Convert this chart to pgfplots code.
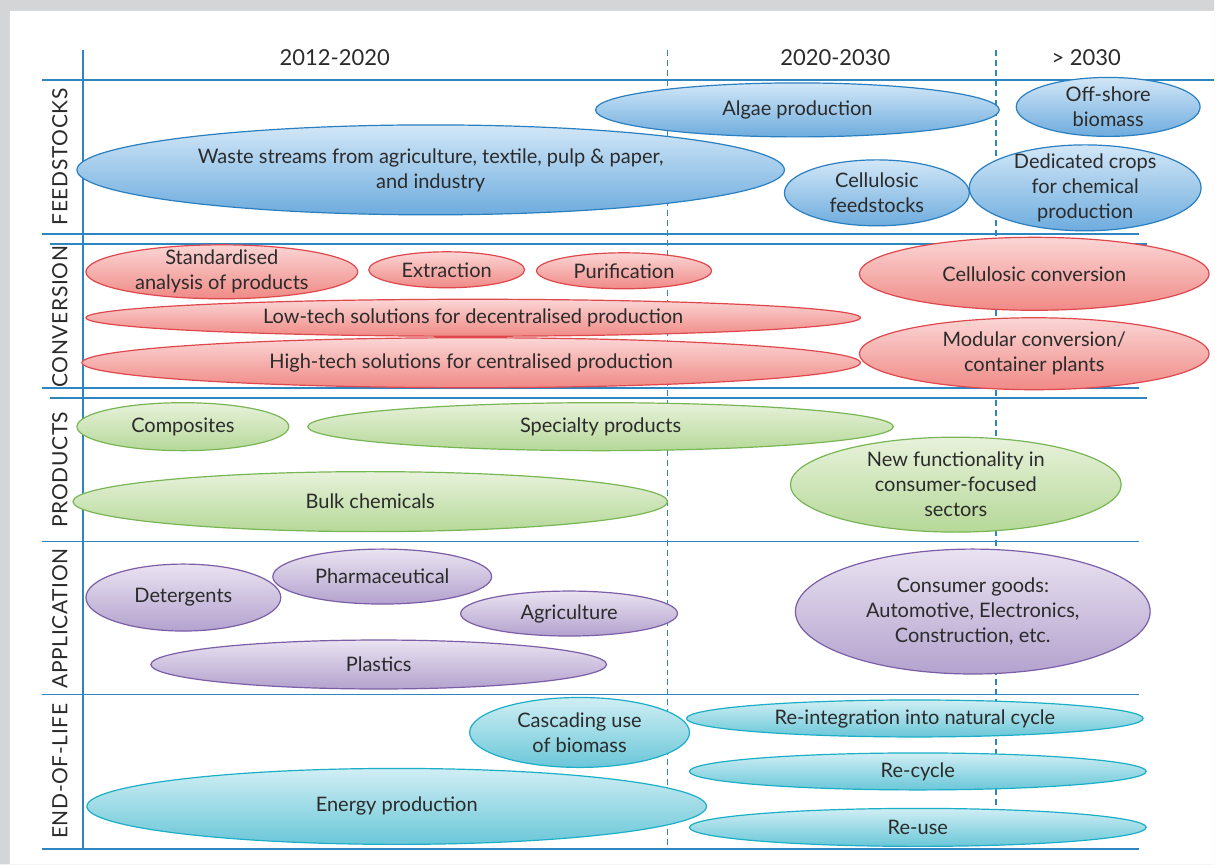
\documentclass[border=0pt]{standalone}
\usepackage{fontspec}
\setmainfont{Lato}
\newfontfamily\catfont[LetterSpace=3]{Lato}
\usepackage{pgfplots}
\pgfplotsset{compat=1.18}

\definecolor{graybg}{HTML}{D4D5D7}
\definecolor{linecol}{HTML}{2E86C1}
\definecolor{txt}{HTML}{2B2B2B}
\definecolor{bedge}{HTML}{2A7FC0}\definecolor{btop}{HTML}{D2E7F7}\definecolor{bbot}{HTML}{6EACDE}
\definecolor{redge}{HTML}{E0474C}\definecolor{rtop}{HTML}{FAD6D5}\definecolor{rbot}{HTML}{F08A86}
\definecolor{gedge}{HTML}{78B655}\definecolor{gtop}{HTML}{E8F2DB}\definecolor{gbot}{HTML}{B5D898}
\definecolor{pedge}{HTML}{7B5EA7}\definecolor{ptop}{HTML}{EAE3F1}\definecolor{pbot}{HTML}{B3A2CE}
\definecolor{tedge}{HTML}{1AAFC7}\definecolor{ttop}{HTML}{D0EEF4}\definecolor{tbot}{HTML}{6AC7D8}

\pgfdeclareverticalshading{shb}{100bp}{color(0bp)=(bbot); color(25bp)=(bbot); color(75bp)=(btop); color(100bp)=(btop)}
\pgfdeclareverticalshading{shr}{100bp}{color(0bp)=(rbot); color(25bp)=(rbot); color(75bp)=(rtop); color(100bp)=(rtop)}
\pgfdeclareverticalshading{shg}{100bp}{color(0bp)=(gbot); color(25bp)=(gbot); color(75bp)=(gtop); color(100bp)=(gtop)}
\pgfdeclareverticalshading{shp}{100bp}{color(0bp)=(pbot); color(25bp)=(pbot); color(75bp)=(ptop); color(100bp)=(ptop)}
\pgfdeclareverticalshading{sht}{100bp}{color(0bp)=(tbot); color(25bp)=(tbot); color(75bp)=(ttop); color(100bp)=(ttop)}

\newcommand\declell[3]{%
  \pgfdeclareplotmark{#1}{%
    \pgfpathellipse{\pgfpointorigin}{\pgfpoint{0.5pt*\rx}{0pt}}{\pgfpoint{0pt}{0.5pt*\ry}}%
    \pgfshadepath{#2}{0}%
    \pgfpathellipse{\pgfpointorigin}{\pgfpoint{0.5pt*\rx}{0pt}}{\pgfpoint{0pt}{0.5pt*\ry}}%
    \pgfsetstrokecolor{#3}\pgfsetlinewidth{0.6pt}\pgfusepath{stroke}}}
\declell{ellb}{shb}{bedge}
\declell{ellr}{shr}{redge}
\declell{ellg}{shg}{gedge}
\declell{ellp}{shp}{pedge}
\declell{ellt}{sht}{tedge}

% labels
\def\lblwaste{Waste streams from agriculture, textile, pulp \& paper,\\and industry}
\def\lblalgae{Algae production}
\def\lbloff{Off-shore\\biomass}
\def\lblcell{Cellulosic\\feedstocks}
\def\lbldedi{Dedicated crops\\for chemical\\production}
\def\lblstd{Standardised\\analysis of products}
\def\lblextr{Extraction}
\def\lblpuri{Purification}
\def\lbllow{Low-tech solutions for decentralised production}
\def\lblhigh{High-tech solutions for centralised production}
\def\lblcconv{Cellulosic conversion}
\def\lblmod{Modular conversion/\\container plants}
\def\lblcomp{Composites}
\def\lblspec{Specialty products}
\def\lblbulk{Bulk chemicals}
\def\lblnew{New functionality in\\consumer-focused\\sectors}
\def\lbldet{Detergents}
\def\lblpharm{Pharmaceutical}
\def\lblagri{Agriculture}
\def\lblplast{Plastics}
\def\lblcons{Consumer goods:\\Automotive, Electronics,\\Construction, etc.}
\def\lblcasc{Cascading use\\of biomass}
\def\lblreint{Re-integration into natural cycle}
\def\lblrecyc{Re-cycle}
\def\lblreuse{Re-use}
\def\lblenergy{Energy production}

\pgfplotsset{
  ellplot/.style={only marks, mark=#1,
    visualization depends on={\thisrow{rx}\as\rx},
    visualization depends on={\thisrow{ry}\as\ry},
    point meta=explicit symbolic,
    nodes near coords={\csname lbl\pgfplotspointmeta\endcsname},
    nodes near coords align={center},
    every node near coord/.append style={anchor=center, align=center, text=txt,
      font=\fontsize{10}{12.5}\selectfont, inner sep=0pt}},
  hl/.style={draw=linecol, line width=0.9pt, no marks},
}

\begin{document}
\begin{tikzpicture}
\begin{axis}[x=0.5pt, y=0.5pt, xmin=0, xmax=1215, ymin=0, ymax=865,
  y dir=reverse, hide axis, clip=false]
% backgrounds
\addplot[fill=graybg, draw=none] coordinates {(0,0) (1215,0) (1215,865) (0,865) (0,0)};
\addplot[fill=white, draw=none] coordinates {(10,11) (1215,11) (1215,865) (10,865) (10,11)};
% grid lines
\addplot[hl] coordinates {(83,50) (83,850)};
\addplot[hl, line width=0.8pt, dash pattern=on 3pt off 2pt] coordinates {(668,50) (668,850)};
\addplot[hl, line width=0.8pt, dash pattern=on 3pt off 2pt] coordinates {(997,50) (997,850)};
\addplot[hl] coordinates {(42,80) (1215,80)};
\addplot[hl] coordinates {(42,234) (1140,234)};
\addplot[hl] coordinates {(50,244) (1148,244)};
\addplot[hl] coordinates {(42,388) (1140,388)};
\addplot[hl] coordinates {(50,398) (1148,398)};
\addplot[hl] coordinates {(42,542) (1140,542)};
\addplot[hl] coordinates {(42,695) (1140,695)};
\addplot[hl] coordinates {(42,850) (1140,850)};
% ellipses
\addplot[ellplot=ellb] table[x=x, y=y, meta=id] {
x y rx ry id
431 170 354 45 waste
798 110 202 27 algae
1109 107 92 29.5 off
877.5 193 92.5 33 cell
1086 188 116 43 dedi
};
\addplot[ellplot=ellr] table[x=x, y=y, meta=id] {
x y rx ry id
222 272 136 27 std
447 270 78 18 extr
624.5 271 87.5 18 puri
473.5 318 387.5 18.5 low
471.5 363 389.5 25 high
1035 274 175 36.5 cconv
1035 354 175 36 mod
};
\addplot[ellplot=ellg] table[x=x, y=y, meta=id] {
x y rx ry id
183 427 106 24 comp
601 427 293 24 spec
370.5 502 297.5 30 bulk
956.5 485 165.5 47.5 new
};
\addplot[ellplot=ellp] table[x=x, y=y, meta=id] {
x y rx ry id
183.5 598 97.5 33.5 det
382.5 577 109.5 27.5 pharm
569.5 614 108.5 22.5 agri
379 665 228 24.5 plast
973.5 612 177.5 62.5 cons
};
\addplot[ellplot=ellt] table[x=x, y=y, meta=id] {
x y rx ry id
580 733 110 35 casc
915.5 719 228.5 18.5 reint
918.5 772 228.5 18.5 recyc
918.5 828 228.5 19 reuse
397 807 310 38 energy
};
% headers
\node[text=txt, font=\fontsize{11}{13}\selectfont] at (axis cs:335,58) {2012-2020};
\node[text=txt, font=\fontsize{11}{13}\selectfont] at (axis cs:836,58) {2020-2030};
\node[text=txt, font=\fontsize{11}{13}\selectfont] at (axis cs:1087,58) {> 2030};
% categories
\node[rotate=90, text=txt, font=\catfont\fontsize{10.5}{12}\selectfont] at (axis cs:60,157) {FEEDSTOCKS};
\node[rotate=90, text=txt, font=\catfont\fontsize{10.5}{12}\selectfont] at (axis cs:60,317) {CONVERSION};
\node[rotate=90, text=txt, font=\catfont\fontsize{10.5}{12}\selectfont] at (axis cs:60,470) {PRODUCTS};
\node[rotate=90, text=txt, font=\catfont\fontsize{10.5}{12}\selectfont] at (axis cs:60,619) {APPLICATION};
\node[rotate=90, text=txt, font=\catfont\fontsize{10.5}{12}\selectfont] at (axis cs:60,772) {END-OF-LIFE};
\end{axis}
\end{tikzpicture}
\end{document}
